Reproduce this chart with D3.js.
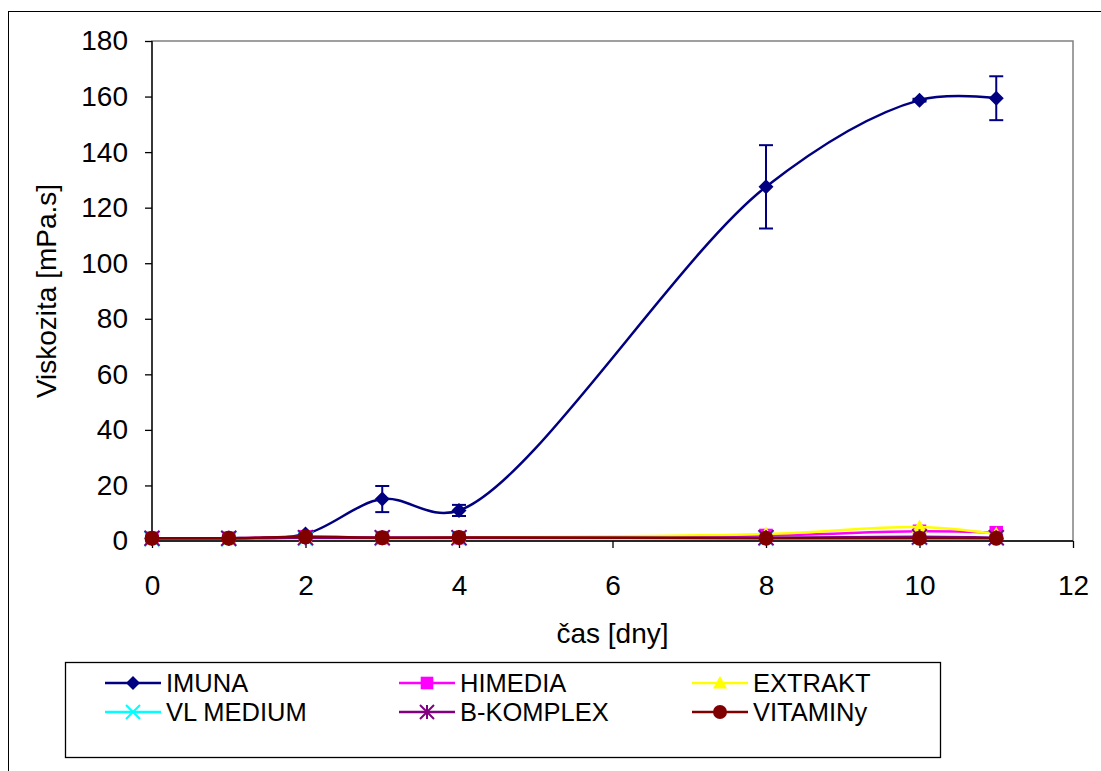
<!DOCTYPE html>
<html><head><meta charset="utf-8">
<script src="https://cdn.jsdelivr.net/npm/d3@7"></script>
<style>body{margin:0;background:#fff}svg{display:block}text{font-family:"Liberation Sans",Arial,sans-serif}</style>
</head><body><svg id="c" width="1101" height="771"></svg>
<script>
const days = [0, 1, 2, 3, 4, 8, 10, 11];
const imuna = [1, 1, 2.5, 15.1, 11, 127.5, 158.7, 159.4];
const imunaErr = [0, 0, 0.5, 4.7, 2, 15, 0.5, 7.9];
const himedia = [1, 1, 1.5, 1.2, 1.2, 2, 3.5, 3];
const extrakt = [0.8, 0.8, 1.2, 1, 1.2, 2.5, 5, 2.5];
const vlMedium = [0.8, 0.8, 1, 1, 1, 1, 1.2, 1];
const bKomplex = [1, 1, 1.2, 1.2, 1.2, 1.2, 1.5, 1.2];
const vitaminy = [1, 1, 1.5, 1.2, 1.3, 1, 1, 1];
const xTicks = [0, 2, 4, 6, 8, 10, 12];
const yTicks = [0, 20, 40, 60, 80, 100, 120, 140, 160, 180];
const seriesNames = ["IMUNA", "HIMEDIA", "EXTRAKT", "VL MEDIUM", "B-KOMPLEX", "VITAMINy"];
const seriesColors = ["#000080", "#FF00FF", "#FFFF00", "#00FFFF", "#800080", "#800000"];
const seriesMarkers = ["diamond", "square", "triangle", "x", "star", "circle"];
const seriesValues = [imuna, himedia, extrakt, vlMedium, bKomplex, vitaminy];

const svg = d3.select("#c");
const L = 152, R = 1073, T = 41, B = 541;
const x = d3.scaleLinear().domain([0, 12]).range([L, R]);
const y = d3.scaleLinear().domain([0, 180]).range([B, T]);
const FONT = '"Liberation Sans",Arial,sans-serif';

svg.append("rect").attr("x", 8.5).attr("y", 11.5).attr("width", 1200).attr("height", 900)
  .attr("fill", "none").attr("stroke", "#000").attr("stroke-width", 1);
svg.append("rect").attr("x", L).attr("y", T).attr("width", R - L).attr("height", B - T)
  .attr("fill", "none").attr("stroke", "#808080").attr("stroke-width", 1.5);

const fs = 28;
const yAxis = svg.append("g").attr("transform", `translate(${L},0)`)
  .call(d3.axisLeft(y).tickValues(yTicks).tickSize(7).tickPadding(17).tickFormat(d3.format("d")));
const xAxis = svg.append("g").attr("transform", `translate(0,${B})`)
  .call(d3.axisBottom(x).tickValues(xTicks).tickSize(7).tickPadding(26).tickFormat(d3.format("d")));
[xAxis, yAxis].forEach(a => {
  a.selectAll("text").attr("font-size", fs).attr("fill", "#000").attr("font-family", FONT);
  a.selectAll("line,path").attr("stroke", "#000").attr("stroke-width", 1.3);
});
xAxis.selectAll("text").attr("dy", "0").attr("y", 595 - B);
yAxis.select(".domain").attr("d", `M0,${T}V${B}`);
xAxis.select(".domain").attr("d", `M${L},0H${R}`);

svg.append("text").attr("transform", `translate(56,${(T + B) / 2}) rotate(-90)`)
  .attr("text-anchor", "middle").attr("font-size", fs).text("Viskozita [mPa.s]");
svg.append("text").attr("x", (L + R) / 2).attr("y", 643)
  .attr("text-anchor", "middle").attr("font-size", fs).text("čas [dny]");

function marker(g, type, color, cx, cy, s) {
  if (type === "diamond") g.append("path").attr("d", `M${cx},${cy - s}L${cx + s},${cy}L${cx},${cy + s}L${cx - s},${cy}Z`).attr("fill", color);
  else if (type === "square") g.append("rect").attr("x", cx - s * 0.9).attr("y", cy - s * 0.9).attr("width", s * 1.8).attr("height", s * 1.8).attr("fill", color);
  else if (type === "triangle") g.append("path").attr("d", `M${cx},${cy - s}L${cx + s},${cy + s * 0.8}L${cx - s},${cy + s * 0.8}Z`).attr("fill", color);
  else if (type === "circle") g.append("circle").attr("cx", cx).attr("cy", cy).attr("r", s).attr("fill", color);
  else if (type === "x") {
    g.append("path").attr("d", `M${cx - s},${cy - s}L${cx + s},${cy + s}M${cx - s},${cy + s}L${cx + s},${cy - s}`).attr("stroke", color).attr("stroke-width", 2);
  } else if (type === "star") {
    g.append("path").attr("d", `M${cx - s},${cy - s}L${cx + s},${cy + s}M${cx - s},${cy + s}L${cx + s},${cy - s}M${cx},${cy - s}V${cy + s}`).attr("stroke", color).attr("stroke-width", 2);
  }
}

const line = d3.line().x((d, i) => x(days[i])).y(d => y(d)).curve(d3.curveCatmullRom.alpha(0.5));

const eg = svg.append("g").attr("stroke", seriesColors[0]).attr("stroke-width", 2);
imuna.forEach((v, i) => {
  const e = imunaErr[i];
  if (e <= 0) return;
  const cx = x(days[i]);
  eg.append("line").attr("x1", cx).attr("x2", cx).attr("y1", y(v - e)).attr("y2", y(v + e));
  eg.append("line").attr("x1", cx - 7).attr("x2", cx + 7).attr("y1", y(v - e)).attr("y2", y(v - e));
  eg.append("line").attr("x1", cx - 7).attr("x2", cx + 7).attr("y1", y(v + e)).attr("y2", y(v + e));
});

seriesValues.forEach((vals, si) => {
  const g = svg.append("g");
  g.append("path").attr("d", line(vals)).attr("fill", "none").attr("stroke", seriesColors[si]).attr("stroke-width", 2.5);
  vals.forEach((v, i) => marker(g, seriesMarkers[si], seriesColors[si], x(days[i]), y(v), 7.5));
});

svg.append("rect").attr("x", 65.5).attr("y", 662.5).attr("width", 875).attr("height", 95)
  .attr("fill", "#fff").attr("stroke", "#000").attr("stroke-width", 1.3);
const colX = [105, 399, 692];
const rowY = [683, 712];
seriesNames.forEach((n, i) => {
  const cx = colX[i % 3], cy = rowY[Math.floor(i / 3)];
  const g = svg.append("g");
  g.append("line").attr("x1", cx).attr("x2", cx + 56).attr("y1", cy).attr("y2", cy).attr("stroke", seriesColors[i]).attr("stroke-width", 2.5);
  marker(g, seriesMarkers[i], seriesColors[i], cx + 28, cy, 7);
  g.append("text").attr("x", cx + 61).attr("y", cy + 8.5).attr("font-size", 25.5).text(n);
});
</script></body></html>
